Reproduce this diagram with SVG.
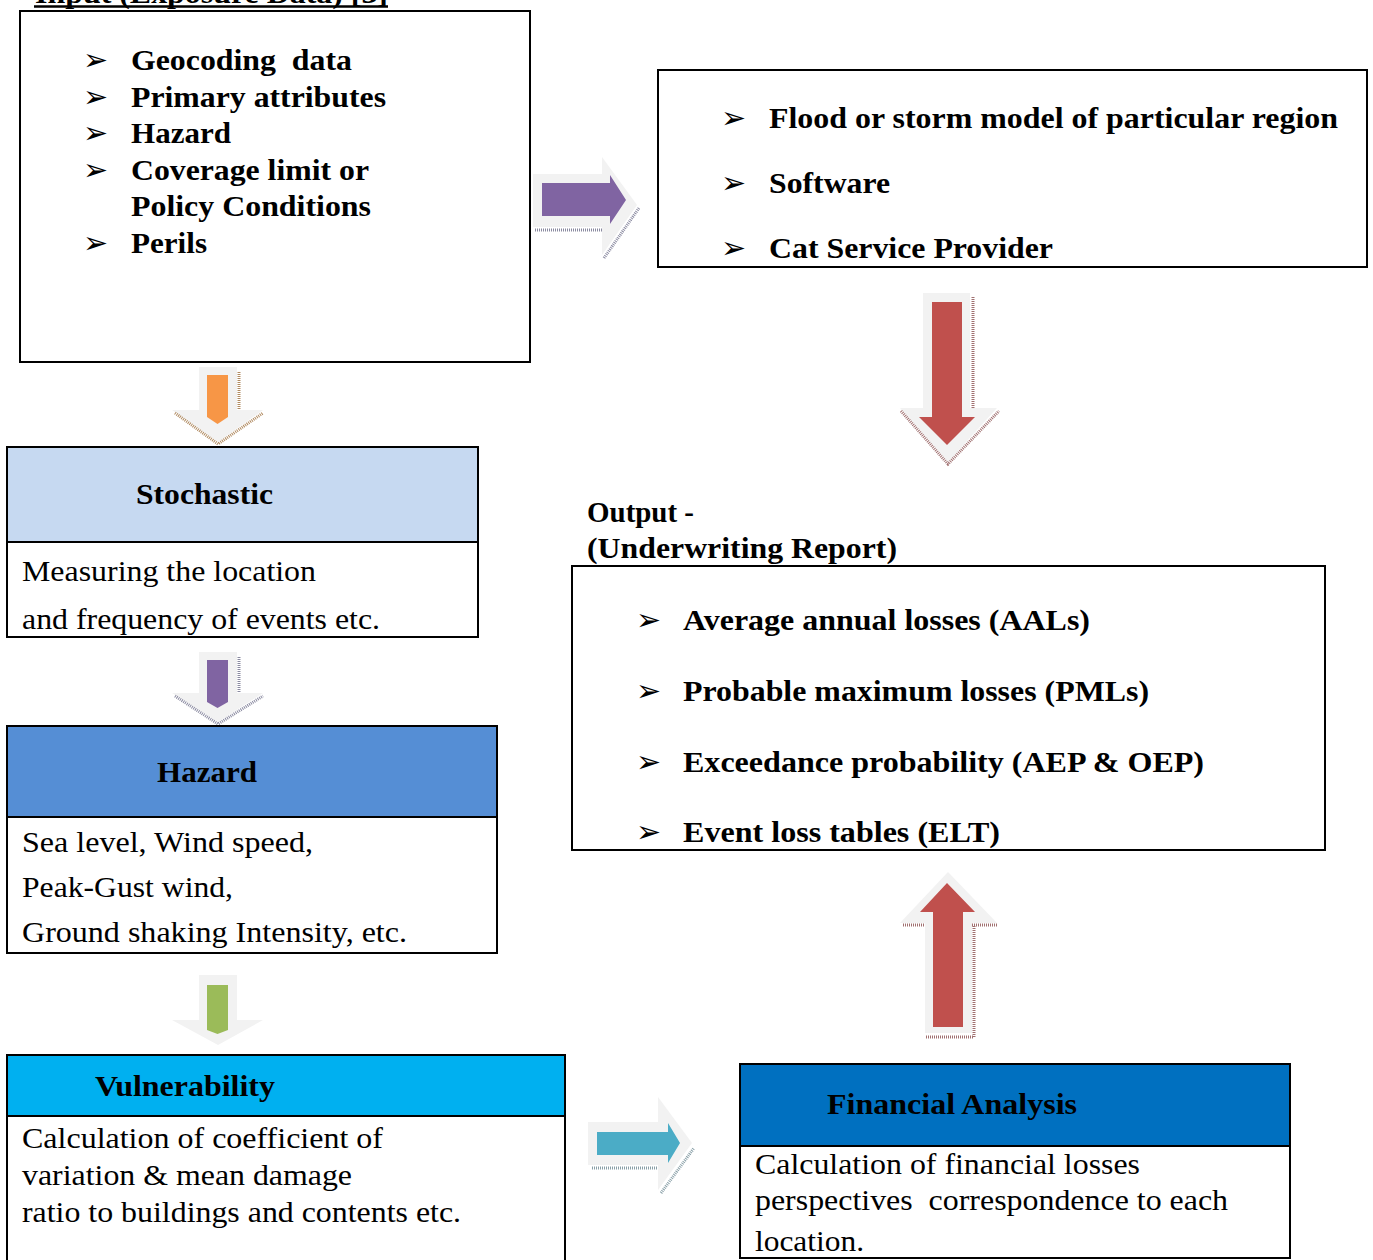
<svg xmlns="http://www.w3.org/2000/svg" width="1373" height="1260" viewBox="0 0 1373 1260">
<style>
.box{fill:#fff;stroke:#000;stroke-width:2}
.t{font-family:"Liberation Serif","Times New Roman",serif;font-size:30px;fill:#000}
.b{font-weight:bold}
.bul{font-family:"DejaVu Sans",sans-serif;font-size:30px;fill:#000}
.halo{fill:#f2f2f2}
.sh{fill:none;stroke-width:3;stroke-dasharray:1 1}
</style>
<rect width="1373" height="1260" fill="#fff"/>

<g id="title">
<text class="t b" x="35" y="3" textLength="353" lengthAdjust="spacingAndGlyphs">Input (Exposure Data) [3]</text>
<line x1="34" y1="6.5" x2="388" y2="6.5" stroke="#000" stroke-width="2.5"/>
</g>

<g id="input">
<rect class="box" x="20" y="11" width="510" height="351"/>
<text class="bul" x="83" y="70">➢</text><text class="t b" x="131" y="70" xml:space="preserve" textLength="221" lengthAdjust="spacingAndGlyphs">Geocoding  data</text>
<text class="bul" x="83" y="107">➢</text><text class="t b" x="131" y="107" textLength="255" lengthAdjust="spacingAndGlyphs">Primary attributes</text>
<text class="bul" x="83" y="143">➢</text><text class="t b" x="131" y="143" textLength="100" lengthAdjust="spacingAndGlyphs">Hazard</text>
<text class="bul" x="83" y="180">➢</text><text class="t b" x="131" y="180" textLength="238" lengthAdjust="spacingAndGlyphs">Coverage limit or</text>
<text class="t b" x="131" y="216" textLength="240" lengthAdjust="spacingAndGlyphs">Policy Conditions</text>
<text class="bul" x="83" y="253">➢</text><text class="t b" x="131" y="253" textLength="76" lengthAdjust="spacingAndGlyphs">Perils</text>
</g>

<g id="model">
<rect class="box" x="658" y="70" width="709" height="197"/>
<text class="bul" x="721" y="128">➢</text><text class="t b" x="769" y="128" textLength="569" lengthAdjust="spacingAndGlyphs">Flood or storm model of particular region</text>
<text class="bul" x="721" y="193">➢</text><text class="t b" x="769" y="193" textLength="121" lengthAdjust="spacingAndGlyphs">Software</text>
<text class="bul" x="721" y="258">➢</text><text class="t b" x="769" y="258" textLength="284" lengthAdjust="spacingAndGlyphs">Cat Service Provider</text>
</g>

<g id="stochastic">
<rect x="7" y="447" width="471" height="95" fill="#c6d9f1" stroke="#000" stroke-width="2"/>
<rect class="box" x="7" y="542" width="471" height="95"/>
<text class="t b" x="136" y="504" textLength="137" lengthAdjust="spacingAndGlyphs">Stochastic</text>
<text class="t" x="22" y="581" textLength="294" lengthAdjust="spacingAndGlyphs">Measuring the location</text>
<text class="t" x="22" y="629" textLength="358" lengthAdjust="spacingAndGlyphs">and frequency of events etc.</text>
</g>

<g id="hazard">
<rect x="7" y="726" width="490" height="91" fill="#558ed5" stroke="#000" stroke-width="2"/>
<rect class="box" x="7" y="817" width="490" height="136"/>
<text class="t b" x="157" y="782" textLength="100" lengthAdjust="spacingAndGlyphs">Hazard</text>
<text class="t" x="22" y="852" textLength="291" lengthAdjust="spacingAndGlyphs">Sea level, Wind speed,</text>
<text class="t" x="22" y="897" textLength="211" lengthAdjust="spacingAndGlyphs">Peak-Gust wind,</text>
<text class="t" x="22" y="942" textLength="385" lengthAdjust="spacingAndGlyphs">Ground shaking Intensity, etc.</text>
</g>

<g id="vulnerability">
<rect x="7" y="1055" width="558" height="61" fill="#00b0f0" stroke="#000" stroke-width="2"/>
<rect class="box" x="7" y="1116" width="558" height="160"/>
<text class="t b" x="95" y="1096" textLength="180" lengthAdjust="spacingAndGlyphs">Vulnerability</text>
<text class="t" x="22" y="1148" textLength="361" lengthAdjust="spacingAndGlyphs">Calculation of coefficient of</text>
<text class="t" x="22" y="1185" textLength="330" lengthAdjust="spacingAndGlyphs">variation &amp; mean damage</text>
<text class="t" x="22" y="1222" textLength="439" lengthAdjust="spacingAndGlyphs">ratio to buildings and contents etc.</text>
</g>

<g id="financial">
<rect x="740" y="1064" width="550" height="82" fill="#0070c0" stroke="#000" stroke-width="2"/>
<rect class="box" x="740" y="1146" width="550" height="112"/>
<text class="t b" x="827" y="1114" textLength="250" lengthAdjust="spacingAndGlyphs">Financial Analysis</text>
<text class="t" x="755" y="1174" textLength="385" lengthAdjust="spacingAndGlyphs">Calculation of financial losses</text>
<text class="t" x="755" y="1210" xml:space="preserve" textLength="473" lengthAdjust="spacingAndGlyphs">perspectives  correspondence to each</text>
<text class="t" x="755" y="1251" textLength="109" lengthAdjust="spacingAndGlyphs">location.</text>
</g>

<g id="output">
<text class="t b" x="587" y="522" textLength="107" lengthAdjust="spacingAndGlyphs">Output -</text>
<text class="t b" x="587" y="558" textLength="310" lengthAdjust="spacingAndGlyphs">(Underwriting Report)</text>
<rect class="box" x="572" y="566" width="753" height="284"/>
<text class="bul" x="636" y="630">➢</text><text class="t b" x="683" y="630" textLength="407" lengthAdjust="spacingAndGlyphs">Average annual losses (AALs)</text>
<text class="bul" x="636" y="701">➢</text><text class="t b" x="683" y="701" textLength="466" lengthAdjust="spacingAndGlyphs">Probable maximum losses (PMLs)</text>
<text class="bul" x="636" y="772">➢</text><text class="t b" x="683" y="772" textLength="521" lengthAdjust="spacingAndGlyphs">Exceedance probability (AEP &amp; OEP)</text>
<text class="bul" x="636" y="842">➢</text><text class="t b" x="683" y="842" textLength="317" lengthAdjust="spacingAndGlyphs">Event loss tables (ELT)</text>
</g>

<g id="connectors">
<!-- purple right arrow -->
<polygon class="halo" points="533,174 602,174 602,157 637,205 602,255 602,227 533,227"/>
<polyline class="sh" stroke="#8a8aa0" points="535,230 602,230"/>
<polyline class="sh" stroke="#8a8aa0" points="604,258 639,208"/>
<polygon fill="#8064a2" points="542,183 610,183 610,175 626,200 610,224 610,216 542,216"/>

<!-- red down arrow -->
<polygon class="halo" points="923,293 970,293 970,408 997,408 948,462 900,408 923,408"/>
<polyline class="sh" stroke="#a07070" points="973,297 973,409"/>
<polyline class="sh" stroke="#a07070" points="901,411 948,464 999,411"/>
<polygon fill="#c0504d" points="932,302 962,302 962,417 975,417 947,445 919,417 932,417"/>

<!-- orange down arrow -->
<polygon class="halo" points="199,367 237,367 237,410 263,410 218,442 172,410 199,410"/>
<polyline class="sh" stroke="#b08a60" points="239,372 239,410"/>
<polyline class="sh" stroke="#b08a60" points="175,413 218,444 263,413"/>
<polygon fill="#f79646" points="207,375 228,375 228,417 217.5,424 207,417"/>

<!-- purple down arrow -->
<polygon class="halo" points="199,652 237,652 237,693 263,693 218,722 172,693 199,693"/>
<polyline class="sh" stroke="#8a8aa0" points="239,657 239,693"/>
<polyline class="sh" stroke="#8a8aa0" points="175,696 218,724 263,696"/>
<polygon fill="#8064a2" points="207,660 228,660 228,702 217.5,708 207,702"/>

<!-- green down arrow -->
<polygon class="halo" points="199,975 237,975 237,1020 263,1020 218,1045 172,1020 199,1020"/>
<polygon fill="#9bbb59" points="207,985 228,985 228,1030 217.5,1034 207,1030"/>

<!-- cyan right arrow -->
<polygon class="halo" points="588,1122 658,1122 658,1097 692,1143 658,1190 658,1165 588,1165"/>
<polyline class="sh" stroke="#8aa0a8" points="592,1168 657,1168"/>
<polyline class="sh" stroke="#8aa0a8" points="661,1193 694,1148"/>
<polygon fill="#4bacc6" points="597,1132 668,1132 668,1123 680,1143 668,1163 668,1155 597,1155"/>

<!-- red up arrow -->
<polygon class="halo" points="948,872 997,923 972,923 972,1033 925,1033 925,923 900,923"/>
<polyline class="sh" stroke="#a07070" points="903,925 925,925"/>
<polyline class="sh" stroke="#a07070" points="972,925 998,925"/>
<polyline class="sh" stroke="#a07070" points="974,926 974,1037 926,1037"/>
<polygon fill="#c0504d" points="947,883 975,912 963,912 963,1027 933,1027 933,912 920,912"/>
</g>
</svg>
